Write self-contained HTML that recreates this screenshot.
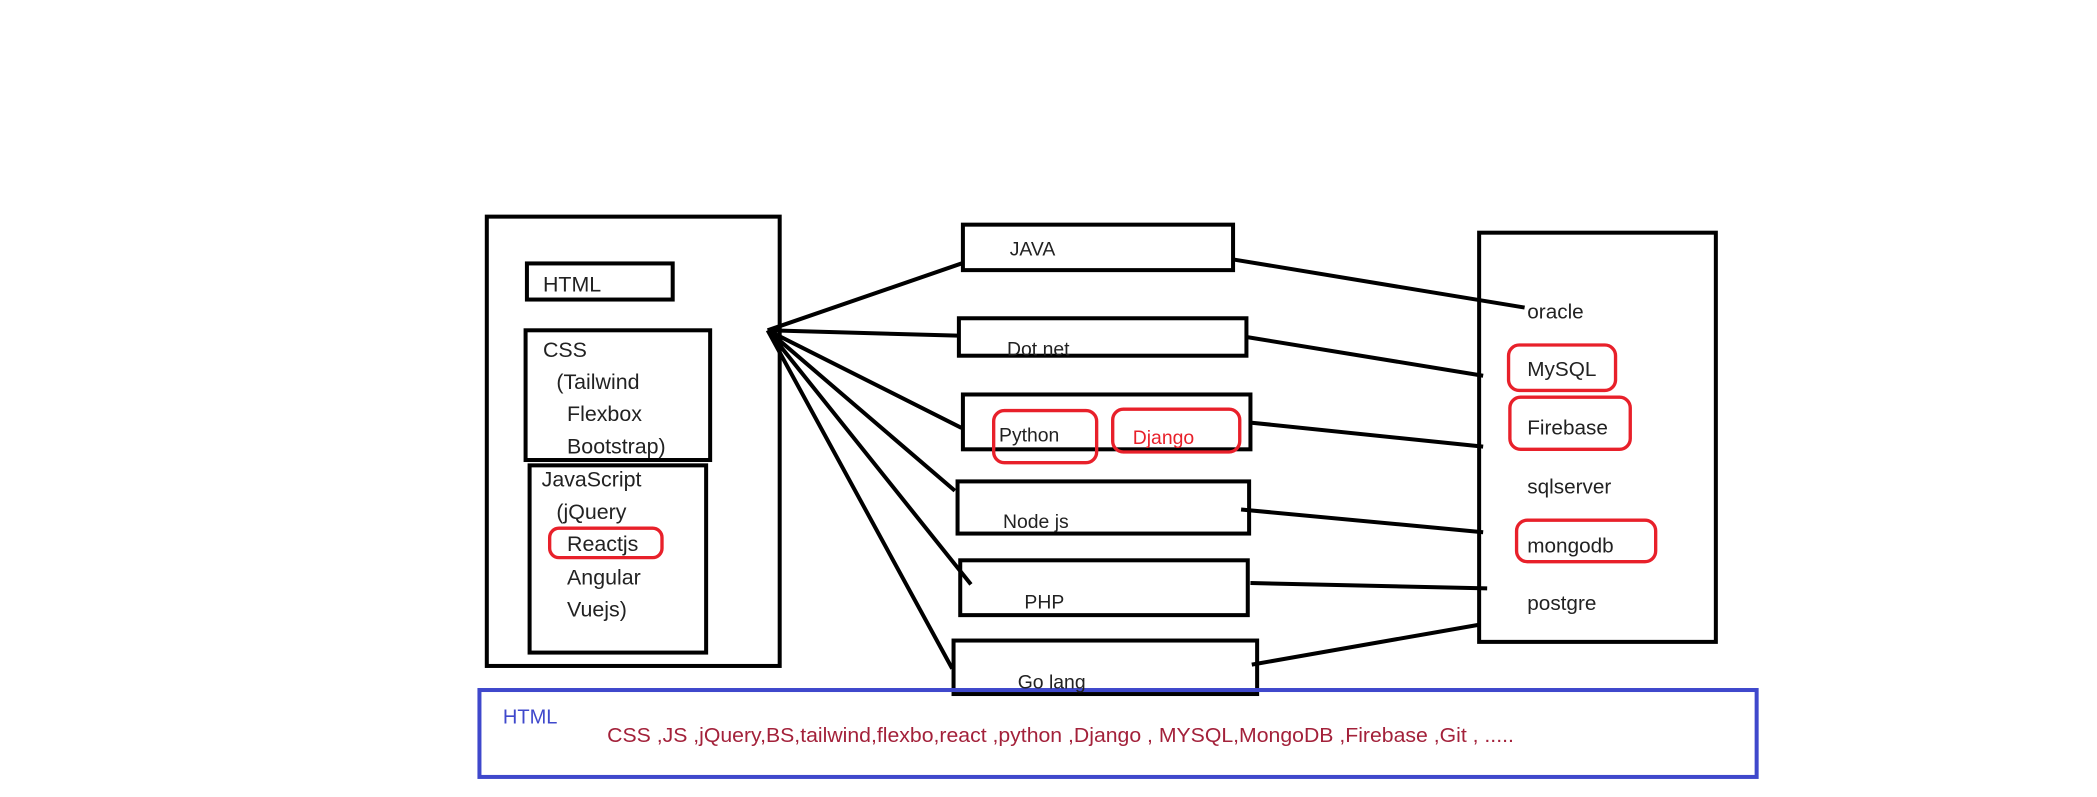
<!DOCTYPE html>
<html><head><meta charset="utf-8"><style>html,body{margin:0;padding:0;background:#fff}svg{display:block}</style></head>
<body>
<svg width="2097" height="797" viewBox="0 0 1568 596" preserveAspectRatio="none" xmlns="http://www.w3.org/2000/svg" font-family="Liberation Sans, sans-serif" font-size="15">
<g fill="none" stroke="#000" stroke-width="3">
<rect x="364" y="162" width="219" height="336"/>
<rect x="394" y="197" width="109" height="27"/>
<rect x="393" y="247" width="138" height="97"/>
<rect x="396" y="348" width="132" height="140"/>
<rect x="720" y="168" width="202" height="34"/>
<rect x="717" y="238" width="215" height="28"/>
<rect x="720" y="295" width="215" height="41"/>
<rect x="716" y="360" width="218" height="39"/>
<rect x="718" y="419" width="215" height="41"/>
<rect x="713" y="479" width="227" height="40"/>
<rect x="1106" y="174" width="177" height="306"/>
<path d="M574 247 L719 197 M574 247 L716 251 M574 247 L719 320 M574 247 L714 367 M574 247 L726 437 M574 247 L712 500"/>
<path d="M922 194 L1140 230 M932 252 L1109 281 M935 316 L1109 334 M928 381 L1109 398 M935 436 L1112 440 M936 497 L1107 467"/>
</g>
<g fill="none" stroke="#e8202a" stroke-width="2.5">
<rect x="411" y="395" width="84" height="22" rx="7"/>
<rect x="743" y="307" width="77" height="39" rx="8"/>
<rect x="832" y="306" width="95" height="32" rx="8"/>
<rect x="1128" y="258" width="80" height="34" rx="8"/>
<rect x="1129" y="297" width="90" height="39" rx="8"/>
<rect x="1134" y="389" width="104" height="31" rx="8"/>
</g>
<rect x="358.5" y="516" width="955" height="65" fill="none" stroke="#3f48cc" stroke-width="3"/>
<g fill="#222" font-size="16">
<text x="406" y="218">HTML</text>
<text x="406" y="267">CSS</text>
<text x="416" y="291">(Tailwind</text>
<text x="424" y="315">Flexbox</text>
<text x="424" y="339">Bootstrap)</text>
<text x="405" y="364">JavaScript</text>
<text x="416" y="388">(jQuery</text>
<text x="424" y="412">Reactjs</text>
<text x="424" y="437">Angular</text>
<text x="424" y="461">Vuejs)</text>
</g>
<g fill="#222" font-size="14.5">
<text x="755" y="191">JAVA</text>
<text x="753" y="266">Dot net</text>
<text x="747" y="330">Python</text>
<text x="847" y="332" fill="#e8202a">Django</text>
<text x="750" y="395">Node js</text>
<text x="766" y="455">PHP</text>
<text x="761" y="515">Go lang</text>
</g>
<g fill="#222" font-size="15.5">
<text x="1142" y="238">oracle</text>
<text x="1142" y="281">MySQL</text>
<text x="1142" y="325">Firebase</text>
<text x="1142" y="369">sqlserver</text>
<text x="1142" y="413">mongodb</text>
<text x="1142" y="456">postgre</text>
</g>
<text x="376" y="541" fill="#3f48cc" font-size="15">HTML</text>
<text x="454" y="555" fill="#a3213a" font-size="15" textLength="678" lengthAdjust="spacingAndGlyphs">CSS ,JS ,jQuery,BS,tailwind,flexbo,react ,python ,Django , MYSQL,MongoDB ,Firebase ,Git , .....</text>
</svg>
</body></html>
